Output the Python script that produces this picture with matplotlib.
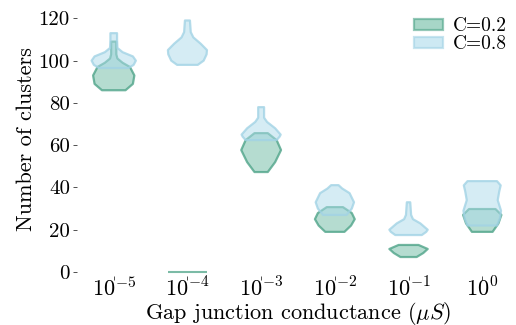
import numpy as np
import matplotlib
matplotlib.use("Agg")
import matplotlib.pyplot as plt
from matplotlib.patches import Patch

plt.rcParams["font.family"] = ["cmr10", "DejaVu Serif"]
plt.rcParams["mathtext.fontset"] = "cm"
plt.rcParams["axes.unicode_minus"] = False
plt.rcParams["axes.formatter.use_mathtext"] = True

categories = ["$10^{-5}$", "$10^{-4}$", "$10^{-3}$", "$10^{-2}$", "$10^{-1}$", "$10^{0}$"]
hue_labels = ["C=0.2", "C=0.8"]
yticks = [0, 20, 40, 60, 80, 100, 120]

# Violin outlines: levels (number of clusters) and half-widths (category units)
c02_levels = [
    [86, 89, 93, 97, 99, 101, 103, 109],
    [0, 0],
    [47.3, 52, 57.7, 62.4, 65.7],
    [19, 22, 25, 27.9, 30.7],
    [7.1, 9, 10.9, 12.8],
    [19, 23, 27, 29.8],
]
c02_widths = [
    [0.16, 0.26, 0.28, 0.22, 0.12, 0.05, 0.035, 0.035],
    [0.27, 0.27],
    [0.09, 0.19, 0.27, 0.21, 0.09],
    [0.13, 0.22, 0.27, 0.23, 0.11],
    [0.11, 0.20, 0.26, 0.135],
    [0.14, 0.22, 0.26, 0.18],
]
c08_levels = [
    [96.5, 98, 100, 102, 104, 106, 110, 113],
    [98, 100, 103, 105, 108, 111, 113.5, 119],
    [62.4, 64, 65, 68, 71, 73, 78],
    [27, 30, 33, 37.3, 39.5, 41.1],
    [17.5, 19, 20, 23, 25, 27, 33],
    [22, 25.5, 29, 34, 38, 41, 43],
]
c08_widths = [
    [0.20, 0.27, 0.30, 0.26, 0.12, 0.05, 0.045, 0.045],
    [0.14, 0.22, 0.26, 0.265, 0.18, 0.08, 0.045, 0.034],
    [0.21, 0.25, 0.265, 0.19, 0.08, 0.04, 0.04],
    [0.16, 0.23, 0.26, 0.20, 0.10, 0.05],
    [0.18, 0.24, 0.26, 0.16, 0.06, 0.035, 0.023],
    [0.20, 0.24, 0.255, 0.21, 0.23, 0.25, 0.20],
]

green_face, green_edge = "#6dbba3", "#4fa489"
blue_face, blue_edge = "#addbeb", "#a2d3e5"

fig = plt.figure(figsize=(5.16, 3.25), dpi=100)
ax = fig.add_axes([0.149, 0.150, 0.857, 0.826])


def draw_violin(x, levels, widths, face, edge):
    levels = np.asarray(levels, float)
    widths = np.asarray(widths, float)
    if np.ptp(levels) == 0:
        ax.plot([x - widths[0], x + widths[0]], [levels[0]] * 2,
                color=edge, alpha=0.75, lw=1.5, solid_capstyle="butt")
        return
    xs = np.concatenate([x - widths, (x + widths)[::-1]])
    ys = np.concatenate([levels, levels[::-1]])
    ax.fill(xs, ys, facecolor=face, alpha=0.5, edgecolor="none")
    ax.fill(xs, ys, facecolor="none", edgecolor=edge, alpha=0.8, lw=1.6,
            joinstyle="round")


for i in range(len(categories)):
    draw_violin(i, c02_levels[i], c02_widths[i], green_face, green_edge)
    draw_violin(i, c08_levels[i], c08_widths[i], blue_face, blue_edge)

ax.set_xlim(-0.5, 5.5)
ax.set_ylim(-2, 125)
ax.set_xticks(range(len(categories)))
ax.set_xticklabels(categories)
ax.set_yticks(yticks)
ax.set_yticklabels([str(v) for v in yticks])
for s in ax.spines.values():
    s.set_visible(False)
ax.tick_params(axis="both", length=3, width=0.6, color="#333333")
ax.tick_params(axis="y", labelsize=15, pad=2)
ax.tick_params(axis="x", labelsize=16, pad=-3)
ax.set_ylabel("Number of clusters", fontsize=16)
ax.set_xlabel(r"Gap junction conductance ($\mu S$)", fontsize=16)
ax.yaxis.set_label_coords(-0.093, 0.51)
ax.xaxis.set_label_coords(0.5, -0.088)

handles = [
    Patch(facecolor=green_face, edgecolor=green_edge, alpha=0.6, lw=1.6),
    Patch(facecolor=blue_face, edgecolor=blue_edge, alpha=0.6, lw=1.6),
]
ax.legend(handles, hue_labels, loc="upper right", bbox_to_anchor=(0.995, 1.0),
          frameon=False, fontsize=14, handlelength=1.5, handleheight=0.55,
          labelspacing=0.0, handletextpad=0.5, borderaxespad=0.1)

fig.savefig("out.png", dpi=100)
